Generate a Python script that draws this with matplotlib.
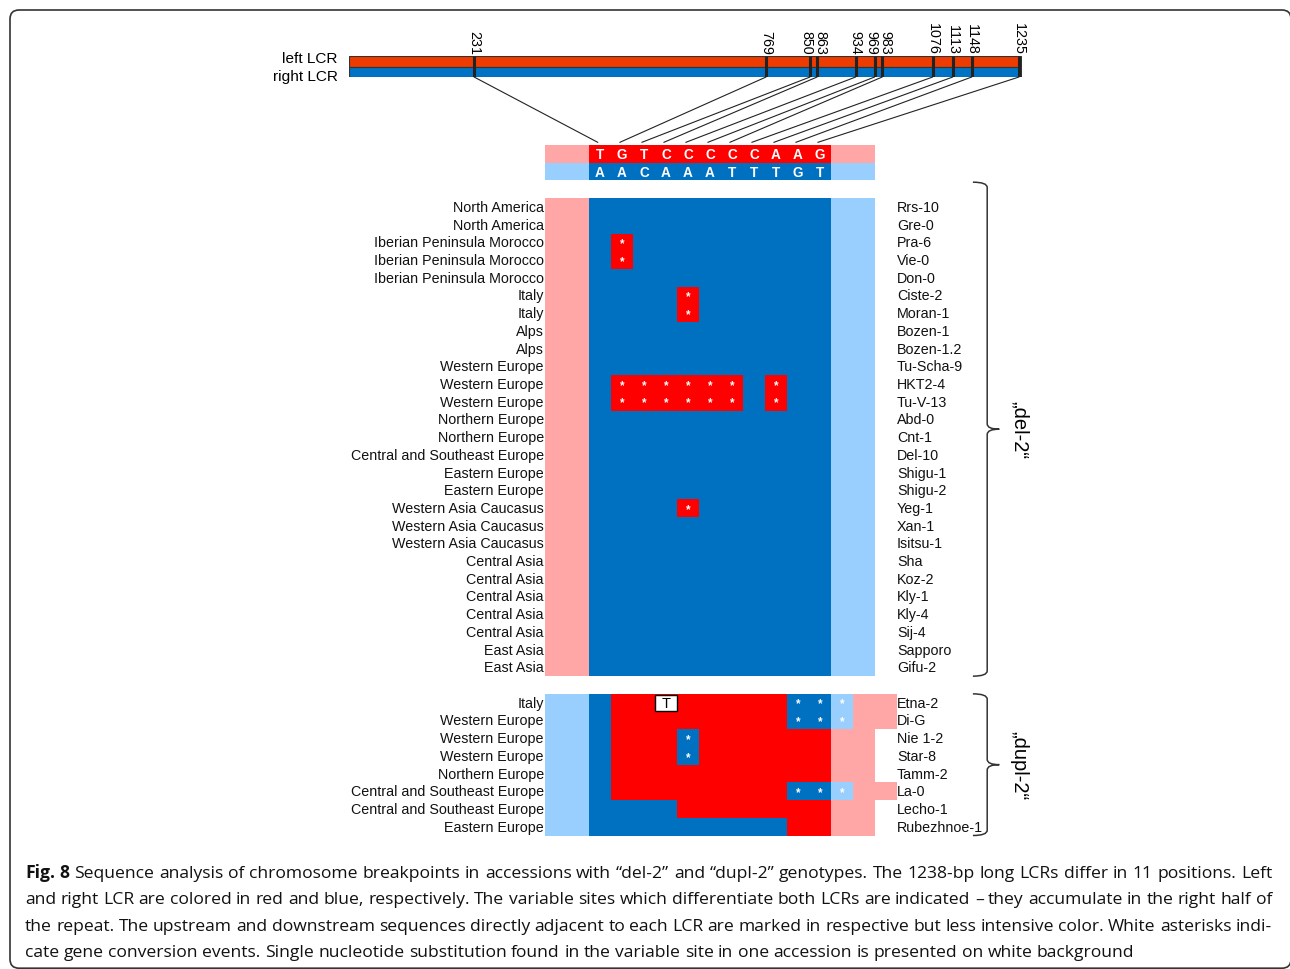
import matplotlib
matplotlib.use("Agg")
import numpy as np
import matplotlib.pyplot as plt
from matplotlib.colors import ListedColormap
from matplotlib.patches import ConnectionPatch, FancyBboxPatch, PathPatch, Rectangle
from matplotlib.path import Path

plt.rcParams['font.family'] = ['Liberation Sans', 'DejaVu Sans']

W, H = 1290, 970

# variable sites of the 1238-bp LCR and their bases
positions = [231, 769, 850, 863, 934, 969, 983, 1076, 1113, 1148, 1235]
left_bases = list("TGTCCCCCAAG")
right_bases = list("AACAAATTTGT")

# row patterns over columns -2..13 (2 flank columns, 11 sites, 2-3 flank columns)
# P = left flank, R = left LCR, B = right LCR, L = right flank, - = nothing
# lower case = same state with gene conversion asterisk
header_patterns = ["PPRRRRRRRRRRRPP-", "LLBBBBBBBBBBBLL-"]

del_regions = ["North America", "North America",
               "Iberian Peninsula Morocco", "Iberian Peninsula Morocco", "Iberian Peninsula Morocco",
               "Italy", "Italy", "Alps", "Alps",
               "Western Europe", "Western Europe", "Western Europe",
               "Northern Europe", "Northern Europe", "Central and Southeast Europe",
               "Eastern Europe", "Eastern Europe",
               "Western Asia Caucasus", "Western Asia Caucasus", "Western Asia Caucasus",
               "Central Asia", "Central Asia", "Central Asia", "Central Asia", "Central Asia",
               "East Asia", "East Asia"]
del_accessions = ["Rrs-10", "Gre-0", "Pra-6", "Vie-0", "Don-0", "Ciste-2", "Moran-1",
                  "Bozen-1", "Bozen-1.2", "Tu-Scha-9", "HKT2-4", "Tu-V-13", "Abd-0",
                  "Cnt-1", "Del-10", "Shigu-1", "Shigu-2", "Yeg-1", "Xan-1", "Isitsu-1",
                  "Sha", "Koz-2", "Kly-1", "Kly-4", "Sij-4", "Sapporo", "Gifu-2"]
del_patterns = ["PPBBBBBBBBBBBLL-", "PPBBBBBBBBBBBLL-",
                "PPBrBBBBBBBBBLL-", "PPBrBBBBBBBBBLL-", "PPBBBBBBBBBBBLL-",
                "PPBBBBrBBBBBBLL-", "PPBBBBrBBBBBBLL-",
                "PPBBBBBBBBBBBLL-", "PPBBBBBBBBBBBLL-",
                "PPBBBBBBBBBBBLL-", "PPBrrrrrrBrBBLL-", "PPBrrrrrrBrBBLL-",
                "PPBBBBBBBBBBBLL-", "PPBBBBBBBBBBBLL-", "PPBBBBBBBBBBBLL-",
                "PPBBBBBBBBBBBLL-", "PPBBBBBBBBBBBLL-",
                "PPBBBBrBBBBBBLL-", "PPBBBBBBBBBBBLL-", "PPBBBBBBBBBBBLL-",
                "PPBBBBBBBBBBBLL-", "PPBBBBBBBBBBBLL-", "PPBBBBBBBBBBBLL-",
                "PPBBBBBBBBBBBLL-", "PPBBBBBBBBBBBLL-",
                "PPBBBBBBBBBBBLL-", "PPBBBBBBBBBBBLL-"]

dupl_regions = ["Italy", "Western Europe", "Western Europe", "Western Europe",
                "Northern Europe", "Central and Southeast Europe",
                "Central and Southeast Europe", "Eastern Europe"]
dupl_accessions = ["Etna-2", "Di-G", "Nie 1-2", "Star-8", "Tamm-2", "La-0",
                   "Lecho-1", "Rubezhnoe-1"]
dupl_patterns = ["LLBRRRRRRRRbblPP", "LLBRRRRRRRRbblPP",
                 "LLBRRRbRRRRRRPP-", "LLBRRRbRRRRRRPP-",
                 "LLBRRRRRRRRRRPP-", "LLBRRRRRRRRbblPP",
                 "LLBBBBRRRRRRRPP-", "LLBBBBBBBBBRRPP-"]

# single nucleotide substitution: (accession, site index, base)
substitutions = [("Etna-2", 3, "T")]

caption_bold = "Fig. 8"
caption_lines = [
    "Sequence analysis of chromosome breakpoints in accessions with \u201cdel-2\u201d and \u201cdupl-2\u201d genotypes. The 1238-bp long LCRs differ in 11 positions. Left",
    "and right LCR are colored in red and blue, respectively. The variable sites which differentiate both LCRs are indicated \u2013 they accumulate in the right half of",
    "the repeat. The upstream and downstream sequences directly adjacent to each LCR are marked in respective but less intensive color. White asterisks indi-",
    "cate gene conversion events. Single nucleotide substitution found in the variable site in one accession is presented on white background",
]

state_colors = {"P": "#FFA7A7", "R": "#FF0000", "B": "#0070C0", "L": "#99CFFF"}
lcr_red, lcr_blue = "#EE3B00", "#0073C4"

# small sideways nudges (points) for crowded site labels
label_nudge = {850: -2.5, 863: 2.5, 969: -2.0, 983: 2.0}


def fig_rect(x0, y0, x1, y1):
    return [x0 / W, 1 - y1 / H, (x1 - x0) / W, (y1 - y0) / H]


fig = plt.figure(figsize=(W / 100, H / 100), dpi=100)

# frame around the figure
fig.patches.append(FancyBboxPatch((10, 0.8), 1281, 958.2, boxstyle="round,pad=0,rounding_size=9",
                                  transform=None, fill=False, ec="#333333", lw=1.2))

# ---- LCR bar ----
ax_bar = fig.add_axes(fig_rect(348.7, 57, 1021.7, 78))
ax_bar.set_xlim(0, 1240)
ax_bar.set_ylim(0, 2)
ax_bar.axis("off")
ax_bar.barh([1.5, 0.5], [1237, 1237], left=1, height=1, color=[lcr_red, lcr_blue],
            edgecolor="#333333", lw=0.8)
ax_bar.vlines(positions, 0, 2, color="#222222", lw=2.2)
for p in positions:
    ax_bar.annotate(str(p), (p, 2), xytext=(label_nudge.get(p, 0), 1.5), textcoords="offset points",
                    rotation=-90, ha="center", va="bottom", fontsize=10.3)
ax_bar.annotate("left LCR", (0, 1.85), xytext=(-8, 0), textcoords="offset points",
                ha="right", va="center", fontsize=11.1)
ax_bar.annotate("right LCR", (0, 0.05), xytext=(-8, 0), textcoords="offset points",
                ha="right", va="center", fontsize=11.1)

# ---- sequence grid ----
ncols = 16
header_rows = [0, 1]
del_start = 3
dupl_start = del_start + len(del_patterns) + 1
nrows = dupl_start + len(dupl_patterns)

ax = fig.add_axes(fig_rect(545, 146, 897, 836.5))
ax.set_xlim(-2, 14)
ax.set_ylim(nrows, 0)
ax.axis("off")

codes = "PRBL"
grid = np.full((nrows, ncols), np.nan)
stars = []
rows = list(zip(header_rows, header_patterns))
rows += [(del_start + i, s) for i, s in enumerate(del_patterns)]
rows += [(dupl_start + i, s) for i, s in enumerate(dupl_patterns)]
for r, pat in rows:
    for j, ch in enumerate(pat):
        if ch == "-":
            continue
        grid[r, j] = codes.index(ch.upper())
        if ch.islower():
            stars.append((j - 2, r))

cmap = ListedColormap([state_colors[c] for c in codes])
ax.pcolormesh(np.arange(-2, ncols - 1), np.arange(nrows + 1), np.ma.masked_invalid(grid),
              cmap=cmap, vmin=-0.5, vmax=3.5, edgecolors="none", antialiased=False)

for c, r in stars:
    ax.text(c + 0.5, r + 0.55, "*", color="white", ha="center", va="center",
            fontsize=8.5, fontweight="bold")

for i, (a, b) in enumerate(zip(left_bases, right_bases)):
    ax.text(i + 0.5, 0.5, a, color="white", ha="center", va="center", fontsize=9.8, fontweight="bold")
    ax.text(i + 0.5, 1.5, b, color="white", ha="center", va="center", fontsize=9.8, fontweight="bold")

for acc, site, base in substitutions:
    r = dupl_start + dupl_accessions.index(acc)
    ax.add_patch(Rectangle((site + 0.02, r + 0.05), 0.96, 0.9, fc="white", ec="black", lw=1))
    ax.text(site + 0.5, r + 0.5, base, ha="center", va="center", fontsize=10.5)

# row labels
for start, regions, accs in [(del_start, del_regions, del_accessions),
                             (dupl_start, dupl_regions, dupl_accessions)]:
    for i, (reg, acc) in enumerate(zip(regions, accs)):
        ax.annotate(reg, (-2, start + i + 0.5), xytext=(-0.8, 0), textcoords="offset points",
                    ha="right", va="center", fontsize=10.3, color="#111111")
        ax.annotate(acc, (14, start + i + 0.5), xytext=(0, 0), textcoords="offset points",
                    ha="left", va="center", fontsize=10.3, color="#111111")

# connectors from the LCR bar to the site columns
for i, p in enumerate(positions):
    con = ConnectionPatch(xyA=(p, 0), coordsA=ax_bar.transData,
                          xyB=(i + 0.4, -0.15), coordsB=ax.transData,
                          color="#222222", lw=0.8)
    fig.add_artist(con)


# braces
def brace(ax, y0, y1, label, xl=17.45, xv=18.1, xn=18.65, r=0.3):
    ym = (y0 + y1) / 2
    verts = [(xl, y0), (xv, y0), (xv, y0 + r),
             (xv, ym - r), (xv, ym), (xn, ym),
             (xv, ym), (xv, ym + r),
             (xv, y1 - r), (xv, y1), (xl, y1)]
    codes_ = [Path.MOVETO, Path.CURVE3, Path.CURVE3,
              Path.LINETO, Path.CURVE3, Path.CURVE3,
              Path.CURVE3, Path.CURVE3,
              Path.LINETO, Path.CURVE3, Path.CURVE3]
    ax.add_patch(PathPatch(Path(verts, codes_), fill=False, ec="#333333", lw=1.1, clip_on=False))
    ax.text(19.55, ym, label, rotation=-90, ha="center", va="center", fontsize=14.5, clip_on=False)


brace(ax, 2.1, del_start + len(del_patterns), "\u201edel-2\u201c")
brace(ax, dupl_start, nrows, "\u201edupl-2\u201c")

# ---- caption ----
renderer = fig.canvas.get_renderer()
cap_font = "Open Sans"


def width(text, fs, weight="normal"):
    t = fig.text(0, 0, text, fontsize=fs, family=cap_font, fontweight=weight)
    w = t.get_window_extent(renderer).width
    t.remove()
    return w


fs = 10 * 1110 / width(caption_lines[3], 10)
space = width("a a", fs) - width("aa", fs)
baselines = [878, 904.5, 931, 957.5]
x_left, x_right = 25, 1272
for k, line in enumerate(caption_lines):
    words = [(w, "normal") for w in line.split(" ")]
    if k == 0:
        words = [(w, "bold") for w in caption_bold.split(" ")] + words
    widths = [width(w, fs, wt) for w, wt in words]
    if k < 3:
        gap = (x_right - x_left - sum(widths)) / (len(words) - 1)
    else:
        gap = space
    x = x_left
    for (w, wt), ww in zip(words, widths):
        fig.text(x / W, 1 - baselines[k] / H, w, fontsize=fs, family=cap_font,
                 fontweight=wt, va="baseline", ha="left", color="#111111")
        x += ww + gap

fig.savefig("out.png", dpi=100)
